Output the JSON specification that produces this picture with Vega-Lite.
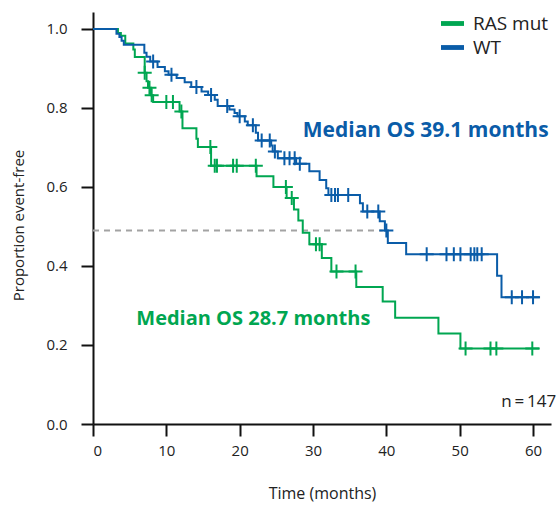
{
  "$schema": "https://vega.github.io/schema/vega-lite/v6.json",
  "width": 458,
  "height": 412,
  "autosize": "none",
  "padding": {"left": 93, "top": 12, "right": 7, "bottom": 81},
  "background": "white",
  "config": {
    "view": {"stroke": null},
    "font": "Open Sans",
    "axis": {
      "grid": false,
      "domainColor": "#111",
      "domainWidth": 2,
      "tickColor": "#111",
      "tickWidth": 2,
      "tickSize": 12,
      "labelFont": "Open Sans",
      "labelFontSize": 15,
      "labelColor": "#222",
      "titleFont": "Open Sans",
      "titleFontSize": 15,
      "titleFontWeight": "normal",
      "titleColor": "#222"
    }
  },
  "datasets": {
    "curves": [
      {"group": "RAS mut", "t": 0, "s": 1.0},
      {"group": "RAS mut", "t": 3.4, "s": 0.99},
      {"group": "RAS mut", "t": 3.8, "s": 0.983},
      {"group": "RAS mut", "t": 4.4, "s": 0.963},
      {"group": "RAS mut", "t": 5.5, "s": 0.948},
      {"group": "RAS mut", "t": 5.7, "s": 0.929},
      {"group": "RAS mut", "t": 7.05, "s": 0.889},
      {"group": "RAS mut", "t": 7.3, "s": 0.868},
      {"group": "RAS mut", "t": 7.5, "s": 0.851},
      {"group": "RAS mut", "t": 7.9, "s": 0.832},
      {"group": "RAS mut", "t": 8.2, "s": 0.815},
      {"group": "RAS mut", "t": 11.8, "s": 0.791},
      {"group": "RAS mut", "t": 12.2, "s": 0.749},
      {"group": "RAS mut", "t": 14.1, "s": 0.722},
      {"group": "RAS mut", "t": 14.3, "s": 0.701},
      {"group": "RAS mut", "t": 16.1, "s": 0.654},
      {"group": "RAS mut", "t": 22.3, "s": 0.627},
      {"group": "RAS mut", "t": 24.6, "s": 0.6},
      {"group": "RAS mut", "t": 26.4, "s": 0.572},
      {"group": "RAS mut", "t": 27.4, "s": 0.543},
      {"group": "RAS mut", "t": 28.0, "s": 0.515},
      {"group": "RAS mut", "t": 28.6, "s": 0.484},
      {"group": "RAS mut", "t": 29.5, "s": 0.455},
      {"group": "RAS mut", "t": 31.2, "s": 0.42},
      {"group": "RAS mut", "t": 32.5, "s": 0.386},
      {"group": "RAS mut", "t": 35.9, "s": 0.347},
      {"group": "RAS mut", "t": 39.5, "s": 0.31},
      {"group": "RAS mut", "t": 41.2, "s": 0.269},
      {"group": "RAS mut", "t": 47.1, "s": 0.229},
      {"group": "RAS mut", "t": 50.1, "s": 0.191},
      {"group": "RAS mut", "t": 60.9, "s": 0.191},
      {"group": "WT", "t": 0, "s": 1.0},
      {"group": "WT", "t": 3.2, "s": 0.988},
      {"group": "WT", "t": 3.6, "s": 0.98},
      {"group": "WT", "t": 3.9, "s": 0.97},
      {"group": "WT", "t": 4.2, "s": 0.96},
      {"group": "WT", "t": 7.0, "s": 0.94},
      {"group": "WT", "t": 7.3, "s": 0.93},
      {"group": "WT", "t": 7.8, "s": 0.918},
      {"group": "WT", "t": 8.8, "s": 0.904},
      {"group": "WT", "t": 9.8, "s": 0.893},
      {"group": "WT", "t": 10.3, "s": 0.884},
      {"group": "WT", "t": 11.4, "s": 0.876},
      {"group": "WT", "t": 12.5, "s": 0.865},
      {"group": "WT", "t": 13.4, "s": 0.853},
      {"group": "WT", "t": 14.8, "s": 0.842},
      {"group": "WT", "t": 15.7, "s": 0.833},
      {"group": "WT", "t": 16.6, "s": 0.821},
      {"group": "WT", "t": 17.0, "s": 0.805},
      {"group": "WT", "t": 18.6, "s": 0.796},
      {"group": "WT", "t": 19.3, "s": 0.787},
      {"group": "WT", "t": 19.7, "s": 0.779},
      {"group": "WT", "t": 20.7, "s": 0.766},
      {"group": "WT", "t": 21.1, "s": 0.756},
      {"group": "WT", "t": 22.2, "s": 0.737},
      {"group": "WT", "t": 22.5, "s": 0.718},
      {"group": "WT", "t": 24.3, "s": 0.705},
      {"group": "WT", "t": 24.5, "s": 0.69},
      {"group": "WT", "t": 25.2, "s": 0.673},
      {"group": "WT", "t": 27.7, "s": 0.659},
      {"group": "WT", "t": 29.5, "s": 0.64},
      {"group": "WT", "t": 30.9, "s": 0.618},
      {"group": "WT", "t": 31.8, "s": 0.597},
      {"group": "WT", "t": 32.1, "s": 0.58},
      {"group": "WT", "t": 36.4, "s": 0.559},
      {"group": "WT", "t": 36.8, "s": 0.538},
      {"group": "WT", "t": 39.1, "s": 0.513},
      {"group": "WT", "t": 39.8, "s": 0.49},
      {"group": "WT", "t": 40.2, "s": 0.458},
      {"group": "WT", "t": 42.7, "s": 0.43},
      {"group": "WT", "t": 55.1, "s": 0.375},
      {"group": "WT", "t": 55.7, "s": 0.321},
      {"group": "WT", "t": 60.9, "s": 0.321}
    ],
    "censors": [
      {"group": "RAS mut", "t": 7.05, "s": 0.889},
      {"group": "RAS mut", "t": 7.7, "s": 0.851},
      {"group": "RAS mut", "t": 8.0, "s": 0.832},
      {"group": "RAS mut", "t": 10.0, "s": 0.815},
      {"group": "RAS mut", "t": 10.9, "s": 0.815},
      {"group": "RAS mut", "t": 12.05, "s": 0.791},
      {"group": "RAS mut", "t": 16.0, "s": 0.701},
      {"group": "RAS mut", "t": 16.6, "s": 0.654},
      {"group": "RAS mut", "t": 16.9, "s": 0.654},
      {"group": "RAS mut", "t": 19.1, "s": 0.654},
      {"group": "RAS mut", "t": 19.6, "s": 0.654},
      {"group": "RAS mut", "t": 22.2, "s": 0.654},
      {"group": "RAS mut", "t": 26.3, "s": 0.6},
      {"group": "RAS mut", "t": 27.1, "s": 0.572},
      {"group": "RAS mut", "t": 30.4, "s": 0.455},
      {"group": "RAS mut", "t": 30.9, "s": 0.455},
      {"group": "RAS mut", "t": 33.2, "s": 0.386},
      {"group": "RAS mut", "t": 35.8, "s": 0.386},
      {"group": "RAS mut", "t": 50.8, "s": 0.191},
      {"group": "RAS mut", "t": 54.2, "s": 0.191},
      {"group": "RAS mut", "t": 55.0, "s": 0.191},
      {"group": "RAS mut", "t": 59.9, "s": 0.191},
      {"group": "WT", "t": 8.2, "s": 0.918},
      {"group": "WT", "t": 10.7, "s": 0.884},
      {"group": "WT", "t": 14.1, "s": 0.853},
      {"group": "WT", "t": 16.1, "s": 0.833},
      {"group": "WT", "t": 18.3, "s": 0.805},
      {"group": "WT", "t": 20.0, "s": 0.779},
      {"group": "WT", "t": 21.8, "s": 0.756},
      {"group": "WT", "t": 23.0, "s": 0.718},
      {"group": "WT", "t": 24.1, "s": 0.718},
      {"group": "WT", "t": 24.8, "s": 0.69},
      {"group": "WT", "t": 26.1, "s": 0.673},
      {"group": "WT", "t": 26.8, "s": 0.673},
      {"group": "WT", "t": 27.5, "s": 0.673},
      {"group": "WT", "t": 28.2, "s": 0.659},
      {"group": "WT", "t": 32.5, "s": 0.58},
      {"group": "WT", "t": 33.0, "s": 0.58},
      {"group": "WT", "t": 33.4, "s": 0.58},
      {"group": "WT", "t": 34.8, "s": 0.58},
      {"group": "WT", "t": 37.4, "s": 0.538},
      {"group": "WT", "t": 38.9, "s": 0.538},
      {"group": "WT", "t": 40.0, "s": 0.49},
      {"group": "WT", "t": 45.5, "s": 0.43},
      {"group": "WT", "t": 48.2, "s": 0.43},
      {"group": "WT", "t": 49.2, "s": 0.43},
      {"group": "WT", "t": 50.1, "s": 0.43},
      {"group": "WT", "t": 51.5, "s": 0.43},
      {"group": "WT", "t": 52.0, "s": 0.43},
      {"group": "WT", "t": 52.4, "s": 0.43},
      {"group": "WT", "t": 53.0, "s": 0.43},
      {"group": "WT", "t": 57.1, "s": 0.321},
      {"group": "WT", "t": 58.5, "s": 0.321},
      {"group": "WT", "t": 60.0, "s": 0.321}
    ],
    "median": [{"t": 0, "t2": 39.5, "s": 0.49}],
    "notes": [
      {"group": "WT", "t": 28.6, "s": 0.727, "size": 21, "label": "Median OS 39.1 months"},
      {"group": "RAS mut", "t": 5.9, "s": 0.251, "size": 20, "label": "Median OS 28.7 months"}
    ],
    "count": [{"group": "n", "t": 63.15, "s": 0.044, "label": "n\u2009=\u2009147"}]
  },
  "layer": [
    {
      "data": {"name": "median"},
      "mark": {"type": "rule", "color": "#a3a3a3", "strokeWidth": 2, "strokeDash": [6, 5]},
      "encoding": {
        "x": {"field": "t", "type": "quantitative", "scale": {"domain": [0, 62.45], "nice": false, "zero": false}},
        "x2": {"field": "t2"},
        "y": {"field": "s", "type": "quantitative", "scale": {"domain": [0, 1.043], "nice": false, "zero": false}}
      }
    },
    {
      "data": {"name": "curves"},
      "mark": {"type": "line", "interpolate": "step-after", "strokeWidth": 2},
      "encoding": {
        "x": {
          "field": "t", "type": "quantitative",
          "scale": {"domain": [0, 62.45], "nice": false, "zero": false},
          "axis": {"values": [0, 10, 20, 30, 40, 50, 60], "title": "Time (months)", "labelPadding": 7, "titleY": 61, "titleBaseline": "top", "titleFontSize": 16}
        },
        "y": {
          "field": "s", "type": "quantitative",
          "scale": {"domain": [0, 1.043], "nice": false, "zero": false},
          "axis": {"values": [0, 0.2, 0.4, 0.6, 0.8, 1.0], "format": ".1f", "title": "Proportion event-free", "labelPadding": 14, "titleX": -67, "titleY": 213, "titleBaseline": "bottom"}
        },
        "color": {
          "field": "group", "type": "nominal",
          "scale": {"domain": ["RAS mut", "WT"], "range": ["#00a651", "#0a5ca8"]},
          "legend": {
            "orient": "none", "legendX": 348, "legendY": 0, "title": null,
            "symbolType": "M-1,-0.21H1V0.21H-1Z", "symbolSize": 529, "symbolStrokeWidth": 0,
            "labelFont": "Open Sans", "labelFontSize": 19, "labelColor": "#222",
            "labelOffset": 9, "rowPadding": 2, "padding": 0,
            "encode": {"symbols": {"update": {"fill": {"scale": "color", "field": "value"}, "strokeWidth": {"value": 0}, "opacity": {"value": 1}}}}
          }
        }
      }
    },
    {
      "data": {"name": "censors"},
      "mark": {"type": "point", "shape": "M-1,0H1M0,-1V1", "size": 196, "filled": false, "strokeWidth": 2, "opacity": 1},
      "encoding": {
        "x": {"field": "t", "type": "quantitative"},
        "y": {"field": "s", "type": "quantitative"},
        "stroke": {
          "field": "group", "type": "nominal",
          "scale": {"domain": ["RAS mut", "WT"], "range": ["#00a651", "#0a5ca8"]},
          "legend": null
        }
      }
    },
    {
      "data": {"name": "notes"},
      "mark": {"type": "text", "align": "left", "baseline": "alphabetic", "font": "Open Sans", "fontWeight": "bold"},
      "encoding": {
        "x": {"field": "t", "type": "quantitative"},
        "y": {"field": "s", "type": "quantitative"},
        "text": {"field": "label"},
        "size": {"field": "size", "type": "quantitative", "scale": null},
        "fill": {
          "field": "group", "type": "nominal",
          "scale": {"domain": ["RAS mut", "WT", "n"], "range": ["#00a651", "#0a5ca8", "#222222"]},
          "legend": null
        }
      }
    },
    {
      "data": {"name": "count"},
      "mark": {"type": "text", "align": "right", "baseline": "alphabetic", "font": "Open Sans", "fontSize": 17, "fill": "#222222"},
      "encoding": {
        "x": {"field": "t", "type": "quantitative"},
        "y": {"field": "s", "type": "quantitative"},
        "text": {"field": "label"}
      }
    }
  ]
}
